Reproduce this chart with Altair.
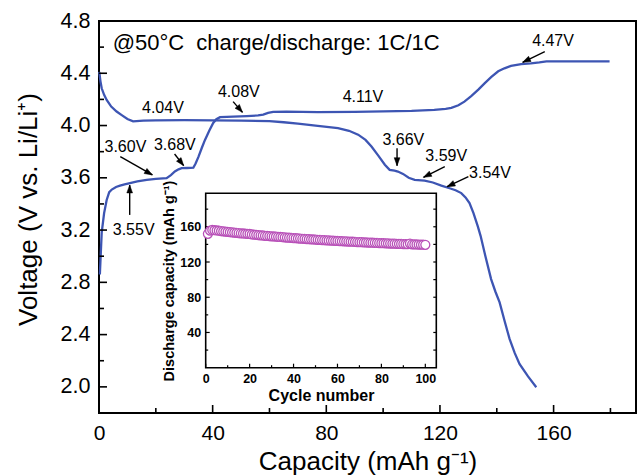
import math
import altair as alt
import pandas as pd

# ---------------- data ----------------
charge_cap = [0.3, 0.95, 1.8, 2.7, 3.6, 4.5, 6.0, 7.4, 9.0, 10.9, 13.5, 16.8, 20.0, 23.8, 25.3,
              26.7, 28.0, 29.1, 31.0, 33.2, 34.0, 35.0, 36.2, 37.3, 38.8, 40.2, 41.3, 42.6, 45.0,
              47.2, 52.0, 56.0, 57.8, 59.5, 61.3, 66.0, 77.0, 90.0, 100.0, 110.0, 118.0, 122.0,
              124.0, 126.5, 128.6, 131.0, 133.5, 135.7, 138.0, 140.5, 142.7, 145.0, 148.6, 152.0,
              155.0, 157.5, 160.0, 170.0, 179.7]
charge_volt = [2.86, 3.18, 3.33, 3.43, 3.49, 3.51, 3.53, 3.54, 3.55, 3.56, 3.572, 3.584, 3.592, 3.597,
               3.62, 3.648, 3.665, 3.674, 3.675, 3.677, 3.71, 3.76, 3.83, 3.89, 3.96, 4.02, 4.048,
               4.064, 4.067, 4.068, 4.072, 4.077, 4.083, 4.097, 4.105, 4.106, 4.102, 4.105, 4.108,
               4.112, 4.12, 4.128, 4.135, 4.155, 4.183, 4.225, 4.275, 4.323, 4.37, 4.415, 4.438,
               4.456, 4.47, 4.476, 4.483, 4.491, 4.491, 4.491, 4.491]

discharge_cap = [0.1, 0.5, 0.95, 1.8, 2.7, 4.3, 6.2, 8.0, 10.0, 12.0, 15.6, 20.0, 30.0, 40.0, 50.0,
                 60.0, 65.0, 70.0, 77.0, 84.1, 88.0, 91.2, 93.8, 95.9, 98.3, 100.6, 102.3, 104.0,
                 105.2, 107.0, 109.0, 111.1, 114.6, 117.5, 120.5, 123.4, 125.5, 127.5, 129.0, 130.4,
                 131.8, 133.3, 134.3, 136.0, 138.0, 139.5, 141.0, 142.8, 144.5, 146.3, 148.0, 151.0,
                 153.9]
discharge_volt = [4.41, 4.34, 4.285, 4.235, 4.196, 4.145, 4.107, 4.08, 4.05, 4.032, 4.038, 4.04,
                  4.041, 4.04, 4.038, 4.033, 4.025, 4.015, 3.997, 3.98, 3.96, 3.93, 3.89, 3.84, 3.77,
                  3.70, 3.661, 3.655, 3.648, 3.63, 3.60, 3.584, 3.579, 3.564, 3.54, 3.52, 3.505, 3.483,
                  3.45, 3.406, 3.33, 3.23, 3.156, 3.0, 2.825, 2.73, 2.646, 2.5, 2.367, 2.26, 2.175,
                  2.08, 1.997]

label_text = ["4.04V", "4.08V", "3.60V", "3.68V", "3.55V", "4.11V", "4.47V", "3.66V", "3.59V", "3.54V"]
label_cap = [22.5, 49.2, 9.3, 26.7, 12.2, 92.9, 159.8, 107.1, 122.2, 137.6]
label_volt = [4.132, 4.259, 3.838, 3.851, 3.201, 4.221, 4.649, 3.890, 3.769, 3.637]

arrow_cap_from = [7.5, 26.6, 10.8, 47.2, 104.9, 121.7, 130.0, 156.9]
arrow_volt_from = [3.762, 3.782, 3.316, 4.183, 3.826, 3.685, 3.609, 4.565]
arrow_cap_to = [18.8, 29.8, 10.8, 50.5, 104.9, 114.2, 122.5, 149.1]
arrow_volt_to = [3.622, 3.693, 3.545, 4.101, 3.693, 3.604, 3.532, 4.484]

title_text = ["@50°C \u00a0charge/discharge: 1C/1C"]
title_cap = [4.8]
title_volt = [4.632]

cycles = list(range(1, 101))
discharge_capacity = [
    152.0, 155.6, 156.4, 156.1, 155.8, 155.5, 155.1, 154.8, 154.5, 154.2,
    153.9, 153.6, 153.4, 153.1, 152.9, 152.6, 152.4, 152.1, 151.9, 151.8,
    151.3, 151.0, 150.8, 150.5, 150.3, 150.1, 149.8, 149.6, 149.4, 149.2,
    149.0, 148.8, 148.6, 148.4, 148.2, 148.0, 147.8, 147.6, 147.4, 147.2,
    147.0, 146.8, 146.6, 146.4, 146.3, 146.1, 145.9, 145.7, 145.6, 145.4,
    145.2, 145.1, 144.9, 144.8, 144.6, 144.5, 144.3, 144.2, 144.0, 143.9,
    143.8, 143.6, 143.5, 143.4, 143.2, 143.1, 143.0, 142.8, 142.7, 142.6,
    142.5, 142.3, 142.2, 142.1, 142.0, 141.9, 141.8, 141.6, 141.5, 141.4,
    141.3, 141.2, 141.1, 141.0, 140.9, 140.8, 140.7, 140.6, 140.5, 140.4,
    140.3, 140.2, 141.0, 140.1, 140.0, 139.9, 139.8, 139.7, 139.6, 139.5]

main_x_major = [0, 40, 80, 120, 160]
main_x_minor = [20, 60, 100, 140, 180]
main_y_major = [2.0, 2.4, 2.8, 3.2, 3.6, 4.0, 4.4, 4.8]
main_y_minor = [2.2, 2.6, 3.0, 3.4, 3.8, 4.2, 4.6]
inset_x_major = [0, 20, 40, 60, 80, 100]
inset_x_minor = [10, 30, 50, 70, 90]
inset_y_major = [40, 80, 120, 160]
inset_y_minor = [20, 60, 100, 140, 180]

# ---------------- layout / style ----------------
W, H = 537, 392
X_DOM = [0, 189]
Y_DOM = [1.8, 4.8]
IX0, IX1 = 106.7, 337.3     # inset left/right (px inside plot)
IYT, IYB = 172.3, 346.7     # inset top/bottom
IX_DOM = [0, 105]
IY_DOM = [0, 198]
BLUE = "#3d55b3"
MAG = "#b850b8"
FONT = "Liberation Sans"

sx = W / (X_DOM[1] - X_DOM[0])
sy = H / (Y_DOM[1] - Y_DOM[0])

xs = alt.Scale(domain=X_DOM, nice=False, zero=False)
ys = alt.Scale(domain=Y_DOM, nice=False, zero=False)
ixs = alt.Scale(domain=IX_DOM, range=[IX0, IX1], nice=False, zero=False)
iys = alt.Scale(domain=IY_DOM, range=[IYB, IYT], nice=False, zero=False)

# ---------------- main curves ----------------
curves_df = pd.DataFrame({
    "cap": charge_cap + discharge_cap,
    "volt": charge_volt + discharge_volt,
    "series": ["charge"] * len(charge_cap) + ["discharge"] * len(discharge_cap),
    "idx": list(range(len(charge_cap))) + list(range(len(discharge_cap))),
})

curves = alt.Chart(curves_df).mark_line(color=BLUE, strokeWidth=2.3).encode(
    x=alt.X("cap:Q", scale=xs, axis=alt.Axis(
        orient="bottom", values=main_x_major, title="Capacity (mAh g⁻¹)",
        labelFont=FONT, labelFontSize=21, labelColor="black", labelPadding=9,
        labelFlush=False, labelOverlap=False, ticks=False, domain=False, grid=False,
        titleFont=FONT, titleFontSize=26, titleFontWeight="normal", titleColor="black",
        titlePadding=5)),
    y=alt.Y("volt:Q", scale=ys, axis=alt.Axis(
        orient="left", values=main_y_major, format=".1f", title="Voltage (V vs. Li/Li⁺)",
        labelFont=FONT, labelFontSize=21.5, labelColor="black", labelPadding=9,
        labelFlush=False, labelOverlap=False, ticks=False, domain=False, grid=False,
        titleFont=FONT, titleFontSize=26, titleFontWeight="normal", titleColor="black",
        titlePadding=19, titleY=188)),
    detail="series:N",
    order="idx:Q",
)

# ---------------- arrows ----------------
angles = []
for xt, vt, xh, vh in zip(arrow_cap_from, arrow_volt_from, arrow_cap_to, arrow_volt_to):
    dx = (xh - xt) * sx
    dy = -(vh - vt) * sy
    angles.append(math.degrees(math.atan2(dx, -dy)) % 360)

arrow_df = pd.DataFrame({
    "x0": arrow_cap_from, "y0": arrow_volt_from,
    "x1": arrow_cap_to, "y1": arrow_volt_to, "ang": angles,
})

arrow_lines = alt.Chart(arrow_df).mark_rule(color="black", strokeWidth=1.4).encode(
    x=alt.X("x0:Q", scale=xs, axis=None), x2="x1:Q",
    y=alt.Y("y0:Q", scale=ys, axis=None), y2="y1:Q",
)
arrow_heads = alt.Chart(arrow_df).mark_point(
    shape="M0,0L-0.8,2.2L0.8,2.2Z", filled=True, fill="black", stroke="black",
    strokeWidth=0.5, size=52, opacity=1,
).encode(
    x=alt.X("x1:Q", scale=xs, axis=None),
    y=alt.Y("y1:Q", scale=ys, axis=None),
    angle=alt.Angle("ang:Q", scale=None),
)

labels = alt.Chart(pd.DataFrame({"t": label_text, "x": label_cap, "y": label_volt})).mark_text(
    font=FONT, fontSize=16, color="black", align="center", baseline="middle",
).encode(
    x=alt.X("x:Q", scale=xs, axis=None),
    y=alt.Y("y:Q", scale=ys, axis=None),
    text="t:N",
)

title_lbl = alt.Chart(pd.DataFrame({"t": title_text, "x": title_cap, "y": title_volt})).mark_text(
    font=FONT, fontSize=22, color="black", align="left", baseline="middle",
).encode(
    x=alt.X("x:Q", scale=xs, axis=None),
    y=alt.Y("y:Q", scale=ys, axis=None),
    text="t:N",
)

# ---------------- ticks (inward) ----------------
def xticks(vals, scale, ybase, length, width):
    return alt.Chart(pd.DataFrame({"v": vals})).mark_rule(color="black", strokeWidth=width).encode(
        x=alt.X("v:Q", scale=scale, axis=None),
        y=alt.value(ybase), y2=alt.value(ybase - length),
    )

def yticks(vals, scale, xbase, length, width):
    return alt.Chart(pd.DataFrame({"v": vals})).mark_rule(color="black", strokeWidth=width).encode(
        y=alt.Y("v:Q", scale=scale, axis=None),
        x=alt.value(xbase), x2=alt.value(xbase + length),
    )

main_ticks = [
    xticks(main_x_major, xs, H, 8, 1.6),
    xticks(main_x_minor, xs, H, 5, 1.6),
    yticks(main_y_major, ys, 0, 8, 1.6),
    yticks(main_y_minor, ys, 0, 5, 1.6),
]

# ---------------- inset ----------------
inset_frame = alt.Chart(pd.DataFrame({"a": [0]})).mark_rect(
    fill="white", stroke="black", strokeWidth=1.6,
).encode(
    x=alt.value(IX0), x2=alt.value(IX1), y=alt.value(IYT), y2=alt.value(IYB),
)

inset_ticks = [
    xticks(inset_x_major, ixs, IYB, 4, 1.2),
    xticks(inset_x_minor, ixs, IYB, 2.5, 1.2),
    yticks(inset_y_major, iys, IX0, 4, 1.2),
    yticks(inset_y_minor, iys, IX0, 2.5, 1.2),
    yticks(inset_y_major + inset_y_minor, iys, IX1, -3, 1.2),
]

inset_df = pd.DataFrame({"cycle": cycles, "cap": discharge_capacity})
inset_points = alt.Chart(inset_df).mark_point(
    shape="circle", filled=True, fill="white", stroke=MAG, strokeWidth=1.3,
    size=80, opacity=1, fillOpacity=1,
).encode(
    x=alt.X("cycle:Q", scale=ixs, axis=alt.Axis(
        orient="bottom", offset=IYB - H, values=inset_x_major, title="Cycle number",
        labelFont=FONT, labelFontSize=12.5, labelFontWeight="bold", labelColor="black",
        labelPadding=4.5, labelFlush=False, labelOverlap=False, ticks=False, domain=False,
        grid=False, titleFont=FONT, titleFontSize=16, titleFontWeight="bold",
        titleColor="black", titlePadding=3)),
    y=alt.Y("cap:Q", scale=iys, axis=alt.Axis(
        orient="left", offset=-IX0, values=inset_y_major, title="Discharge capacity (mAh g⁻¹)",
        labelFont=FONT, labelFontSize=12.5, labelFontWeight="bold", labelColor="black",
        labelPadding=5, labelFlush=False, labelOverlap=False, ticks=False, domain=False,
        grid=False, titleFont=FONT, titleFontSize=14.5, titleFontWeight="bold",
        titleColor="black", titlePadding=3)),
    order=alt.Order("cycle:Q"),
)

chart = alt.layer(
    curves, arrow_lines, arrow_heads, labels, title_lbl, *main_ticks,
    inset_frame, *inset_ticks, inset_points,
).resolve_scale(
    x="independent", y="independent"
).properties(
    width=W, height=H,
    autosize=alt.AutoSizeParams(type="none"),
    padding={"left": 99, "top": 21, "right": 2, "bottom": 63},
    background="white",
).configure_view(
    stroke="black", strokeWidth=2,
)

chart.save("out.html", embed_options={"renderer": "svg", "actions": False})
